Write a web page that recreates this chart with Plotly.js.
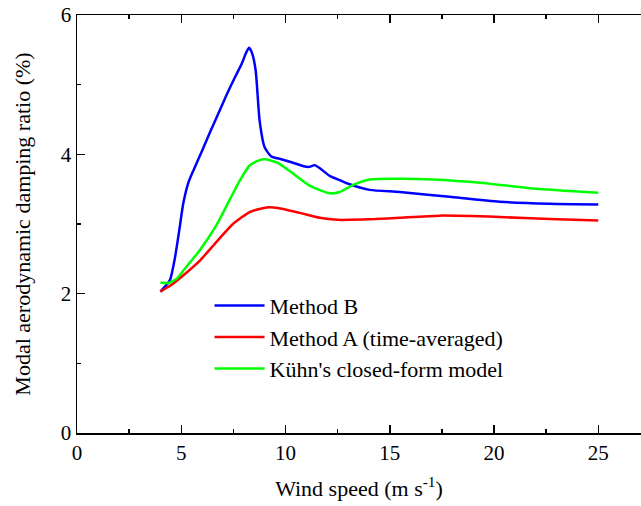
<!DOCTYPE html>
<html>
<head>
<meta charset="utf-8">
<script src="https://cdn.plot.ly/plotly-3.0.1.min.js"></script>
</head>
<body style="margin:0;background:#fff">
<div id="chart"></div>
<script>
// Method B
const methodB_x = [4.0, 4.45, 4.7, 4.9, 5.1, 5.35, 5.6, 6.0, 6.4, 6.8, 7.2, 7.6, 7.9, 8.1, 8.25, 8.4, 8.57, 8.76, 9.0, 9.32, 9.8, 10.36, 10.92, 11.15, 11.4, 11.65, 12.12, 12.6, 13.08, 14.04, 15.48, 17.87, 20.27, 22.67, 25.0];
const methodB_y = [2.03, 2.19, 2.52, 2.9, 3.3, 3.6, 3.78, 4.05, 4.33, 4.6, 4.87, 5.12, 5.3, 5.45, 5.53, 5.45, 5.2, 4.48, 4.1, 3.97, 3.93, 3.88, 3.825, 3.82, 3.845, 3.8, 3.69, 3.63, 3.57, 3.49, 3.46, 3.39, 3.32, 3.29, 3.28];
// Method A (time-averaged)
const methodA_x = [4.0, 4.5, 5.09, 5.88, 6.68, 7.48, 8.28, 8.8, 9.2, 9.63, 10.68, 11.64, 12.5, 13.08, 14.3, 15.48, 17.4, 20.27, 22.67, 25.0];
const methodA_y = [2.03, 2.12, 2.26, 2.47, 2.74, 3.0, 3.17, 3.22, 3.24, 3.23, 3.16, 3.09, 3.06, 3.06, 3.07, 3.09, 3.12, 3.1, 3.07, 3.05];
// Kühn's closed-form model
const kuhn_x = [4.0, 4.37, 4.8, 5.09, 5.88, 6.68, 7.8, 8.28, 8.7, 9.0, 9.6, 10.2, 11.16, 12.12, 12.6, 13.3, 14.04, 15.48, 17.06, 19.46, 21.86, 25.0];
const kuhn_y = [2.16, 2.15, 2.22, 2.33, 2.62, 2.98, 3.62, 3.84, 3.91, 3.93, 3.88, 3.76, 3.55, 3.44, 3.46, 3.57, 3.64, 3.65, 3.64, 3.59, 3.51, 3.45];

const seriesNames = ["Method B", "Method A (time-averaged)", "Kühn's closed-form model"];
const xTickVals = [0, 5, 10, 15, 20, 25];
const yTickVals = [0, 2, 4, 6];

const fam = "Times New Roman";
const traces = [
  {x: methodB_x, y: methodB_y, name: seriesNames[0], mode: "lines", line: {color: "#0000ff", width: 2.5, shape: "spline", smoothing: 0.6}},
  {x: methodA_x, y: methodA_y, name: seriesNames[1], mode: "lines", line: {color: "#ff0000", width: 2.5, shape: "spline", smoothing: 0.6}},
  {x: kuhn_x, y: kuhn_y, name: seriesNames[2], mode: "lines", line: {color: "#00ff00", width: 2.5, shape: "spline", smoothing: 0.6}}
];
const layout = {
  width: 641, height: 506,
  margin: {l: 77, r: 0, t: 15, b: 73},
  paper_bgcolor: "#fff", plot_bgcolor: "#fff",
  font: {family: fam, size: 21, color: "#000"},
  showlegend: true,
  legend: {x: 0.235, y: 0.355, xanchor: "left", yanchor: "top", bgcolor: "rgba(0,0,0,0)", font: {family: fam, size: 22}, itemwidth: 50, tracegroupgap: 0},
  xaxis: {
    range: [0, 27.05], tickvals: xTickVals, ticktext: xTickVals.map(String),
    tickfont: {family: fam, size: 21},
    showgrid: false, zeroline: false, showline: true, linecolor: "#000", linewidth: 1.5,
    mirror: "ticks", ticks: "inside", ticklen: 8, tickwidth: 1.5, tickcolor: "#000",
    minor: {dtick: 2.5, ticks: "inside", ticklen: 4, tickwidth: 1.5, tickcolor: "#000"},
    title: {text: "Wind speed (m s<sup>-1</sup>)", font: {family: fam, size: 22}, standoff: 17}
  },
  yaxis: {
    range: [0, 6], tickvals: yTickVals, ticktext: yTickVals.map(String),
    tickfont: {family: fam, size: 21},
    showgrid: false, zeroline: false, showline: true, linecolor: "#000", linewidth: 1.5,
    ticks: "inside", ticklen: 8, tickwidth: 1.5, tickcolor: "#000",
    minor: {dtick: 1, ticks: "inside", ticklen: 4, tickwidth: 1.5, tickcolor: "#000"},
    title: {text: "Modal aerodynamic damping ratio (%)", font: {family: fam, size: 22}, standoff: 24}
  }
};
Plotly.newPlot("chart", traces, layout, {displayModeBar: false, staticPlot: true});
</script>
</body>
</html>
